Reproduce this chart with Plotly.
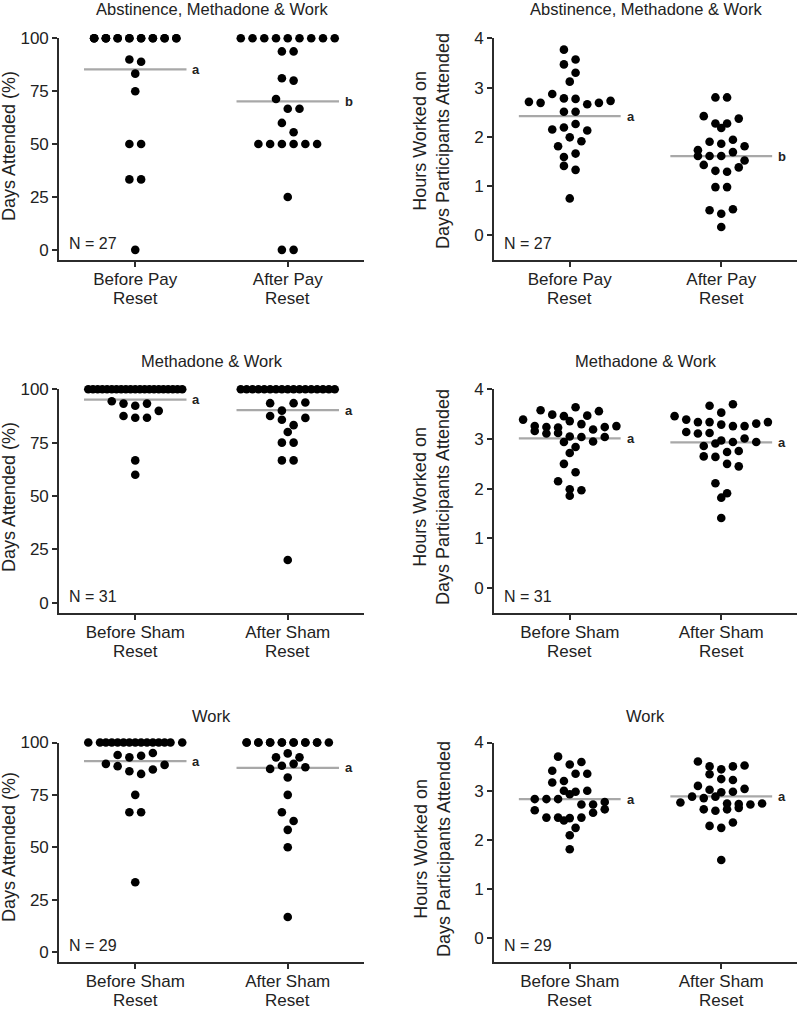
import plotly.graph_objects as go

# ---------------- data ----------------
cats_pay = ["Before Pay<br>Reset", "After Pay<br>Reset"]
cats_sham = ["Before Sham<br>Reset", "After Sham<br>Reset"]
panel_titles = ["Abstinence, Methadone & Work", "Methadone & Work", "Work"]
y_title_pct = "Days Attended (%)"
y_title_hours = "Hours Worked on<br>Days Participants Attended"
pct_ticks = [0, 25, 50, 75, 100]
hour_ticks = [0, 1, 2, 3, 4]

# Days attended (%) - Abstinence, Methadone & Work (N = 27)
tl_before = [100] * 18 + [90.0, 88.9, 83.3, 75.0, 50.0, 50.0, 33.3, 33.3, 0.0]
tl_after = [100] * 9 + [93.8, 93.8, 81.1, 80.0, 71.3, 66.7, 66.7, 60.0, 55.6,
                        50.0, 50.0, 50.0, 50.0, 50.0, 50.0, 25.0, 0.0, 0.0]
# Hours worked - Abstinence, Methadone & Work
tr_before = [3.77, 3.57, 3.47, 3.30, 3.12, 2.71, 2.69, 2.87, 2.78, 2.77, 2.66, 2.69,
             2.73, 2.51, 2.51, 2.15, 2.19, 2.26, 2.13, 1.81, 1.99, 1.91, 1.59, 1.66,
             1.41, 1.33, 0.75]
tr_after = [2.80, 2.80, 2.42, 2.27, 2.27, 2.37, 2.18, 1.73, 1.90, 1.86, 1.94, 1.81,
            1.61, 1.61, 1.61, 1.69, 1.52, 1.43, 1.31, 1.29, 1.38, 0.98, 0.98, 0.51,
            0.44, 0.53, 0.17]

# Days attended (%) - Methadone & Work (N = 31)
ml_before = [100] * 21 + [94.4, 93.3, 92.3, 93.3, 89.9, 87.5, 86.7, 86.7, 66.7, 60.0]
ml_after = [100] * 17 + [93.5, 90.0, 93.5, 93.8, 87.5, 85.7, 83.2, 86.6, 80.0, 75.0,
                         75.0, 66.7, 66.7, 20.0]
# Hours worked - Methadone & Work
mr_before = [3.58, 3.49, 3.46, 3.64, 3.39, 3.47, 3.56,
             3.26, 3.24, 3.23, 3.16, 3.36, 3.11, 3.30, 3.12, 3.19, 3.24, 3.26,
             3.05, 3.04, 2.94, 2.95, 3.04,
             2.84, 2.72, 2.50, 2.33, 2.15, 1.99, 1.97, 1.86]
mr_after = [3.46, 3.67, 3.53, 3.70, 3.39,
            3.34, 3.34, 3.14, 3.29, 3.11, 3.26, 3.26, 3.12, 3.31, 3.34,
            2.97, 2.94, 2.86, 3.01, 2.91, 2.94,
            2.65, 2.74, 2.76, 2.64, 2.50, 2.45, 2.11, 1.91, 1.82, 1.41]

# Days attended (%) - Work (N = 29)
bl_before = [100] * 15 + [94.0, 92.9, 93.7, 95.0, 89.8, 88.7, 86.3, 85.0, 87.1, 89.3,
                          75.0, 66.7, 66.7, 33.3]
bl_after = [100] * 15 + [92.9, 94.8, 92.9, 87.4, 88.9, 89.8, 88.2, 83.3, 75.0, 66.7,
                         62.5, 58.3, 50.0, 16.7]
# Hours worked - Work
br_before = [3.71, 3.55, 3.60, 3.42, 3.21, 3.36, 3.36, 3.18,
             2.84, 2.84, 3.01, 2.99, 3.01, 2.84, 2.94,
             2.61, 2.46, 2.46, 2.73, 2.40, 2.73, 2.45, 2.78, 2.46, 2.56, 2.63,
             2.25, 2.10, 1.81]
br_after = [3.61, 3.51, 3.45, 3.35, 3.51, 3.53, 3.25, 3.11, 3.23,
            2.77, 3.03, 2.98, 2.89, 2.86, 2.89, 2.99, 3.05,
            2.75, 2.74, 2.63, 2.60, 2.63, 2.66, 2.73, 2.75,
            2.29, 2.25, 2.36, 1.59]

sig_letters = {
    "tl": ["a", "b"], "tr": ["a", "b"],
    "ml": ["a", "a"], "mr": ["a", "a"],
    "bl": ["a", "a"], "br": ["a", "a"],
}

# ---------------- style / layout ----------------
FONT = "Liberation Sans, Arial, Helvetica, sans-serif"
W, H = 800, 1012
COL_PX = [(59, 364), (494, 797)]
ROW_PX = [(38.3, 260.0), (389.3, 613.0), (742.5, 962.0)]
TITLE_Y_PX = [9, 361, 716]
YTITLE_PX = {0: [146, 497, 847], 1: [141, 497, 849]}
YTITLE_X_PX = {0: 9, 1: 432}
XLABEL_LINE2_PX = 38.5   # distance of the 2nd category-label line below the x axis
DOT_STEP = 0.077      # horizontal spacing between dots (x units)
HALF_W = 0.336        # half-width of the mean line (x units)
ROW_THR = {"pct": 4.9, "hours": 0.215}


def swarm_offsets(vals, thr, mode="none", k=99):
    n = len(vals)
    order = sorted(range(n), key=lambda i: -vals[i])
    rows = []
    for i in order:
        if rows and vals[rows[-1][0]] - vals[i] < thr:
            rows[-1].append(i)
        else:
            rows.append([i])
    off = [0.0] * n
    for row in rows:
        row = sorted(row)
        m = len(row)
        if m <= k:
            pos = [j - (m - 1) / 2 for j in range(m)]
        elif mode == "wrap":
            pos = [(j % k) - (k - 1) / 2 for j in range(m)]
        elif mode == "chunk":
            pos = []
            for s in range(0, m, k):
                c = min(k, m - s)
                pos += [j - (c - 1) / 2 for j in range(c)]
        else:  # spread
            pos = [-(k - 1) / 2 + j * (k - 1) / (m - 1) for j in range(m)]
        for idx, p in zip(row, pos):
            off[idx] = p
    return off


panels = [
    ("tl", 0, 0, "pct", tl_before, tl_after, cats_pay, [("wrap", 8), ("wrap", 9)]),
    ("tr", 0, 1, "hours", tr_before, tr_after, cats_pay, [("none", 99), ("none", 99)]),
    ("ml", 1, 0, "pct", ml_before, ml_after, cats_sham, [("spread", 9), ("spread", 9)]),
    ("mr", 1, 1, "hours", mr_before, mr_after, cats_sham, [("none", 99), ("none", 99)]),
    ("bl", 2, 0, "pct", bl_before, bl_after, cats_sham, [("chunk", 9), ("wrap", 8)]),
    ("br", 2, 1, "hours", br_before, br_after, cats_sham, [("none", 99), ("none", 99)]),
]

fig = go.Figure()
annotations = []
axis_common = dict(showgrid=False, zeroline=False, showline=True, linecolor="#2b2b2b",
                   linewidth=1.6, ticks="outside", ticklen=5, tickwidth=1.6,
                   tickcolor="#2b2b2b", tickfont=dict(family=FONT, size=17, color="#222"),
                   fixedrange=True, automargin=False)

for n, (key, r, c, kind, before, after, cats, fills) in enumerate(panels, start=1):
    xa = "x" if n == 1 else f"x{n}"
    ya = "y" if n == 1 else f"y{n}"
    xdom = [COL_PX[c][0] / W, COL_PX[c][1] / W]
    top, bot = ROW_PX[r]
    ydom = [1 - bot / H, 1 - top / H]
    yrange = [-4.8, 100] if kind == "pct" else [-0.5, 4]
    ticks = pct_ticks if kind == "pct" else hour_ticks
    first_lines = [lab.split("<br>")[0] for lab in cats]
    second_lines = [lab.split("<br>")[1] for lab in cats]

    fig.layout[f"xaxis{'' if n == 1 else n}"] = dict(
        domain=xdom, anchor=ya, range=[-0.5, 1.5], tickvals=[0, 1],
        ticktext=first_lines, ticklabelstandoff=-2, **axis_common)
    fig.layout[f"yaxis{'' if n == 1 else n}"] = dict(
        domain=ydom, anchor=xa, range=yrange, tickvals=ticks,
        ticktext=[str(t) for t in ticks], **axis_common)

    for gi, lab2 in enumerate(second_lines):
        annotations.append(dict(
            x=gi, y=1 - (bot + XLABEL_LINE2_PX) / H, xref=xa, yref="paper", text=lab2,
            showarrow=False, xanchor="center", yanchor="middle",
            font=dict(family=FONT, size=17, color="#222")))

    for gi, (vals, (mode, k)) in enumerate(zip([before, after], fills)):
        mean = sum(vals) / len(vals)
        fig.add_trace(go.Scatter(
            x=[gi - HALF_W, gi + HALF_W], y=[mean, mean], mode="lines",
            line=dict(color="#a8a8a8", width=2.3), xaxis=xa, yaxis=ya,
            hoverinfo="skip", showlegend=False, cliponaxis=False))
        offs = swarm_offsets(vals, ROW_THR[kind], mode, k)
        fig.add_trace(go.Scatter(
            x=[gi + o * DOT_STEP for o in offs], y=vals, mode="markers",
            marker=dict(color="black", size=8.6, line=dict(width=0)),
            xaxis=xa, yaxis=ya, showlegend=False, cliponaxis=False,
            hoverinfo="skip"))
        annotations.append(dict(
            x=gi + HALF_W, y=mean, xref=xa, yref=ya, text=f"<b>{sig_letters[key][gi]}</b>",
            showarrow=False, xanchor="left", yanchor="middle", xshift=4,
            font=dict(family=FONT, size=13, color="#222")))

    # panel title
    annotations.append(dict(
        x=(xdom[0] + xdom[1]) / 2, y=1 - TITLE_Y_PX[r] / H, xref="paper", yref="paper",
        text=panel_titles[r], showarrow=False, xanchor="center", yanchor="middle",
        font=dict(family=FONT, size=16.5, color="#222")))
    # y-axis title
    annotations.append(dict(
        x=YTITLE_X_PX[c] / W, y=1 - YTITLE_PX[c][r] / H, xref="paper", yref="paper",
        text=y_title_pct if kind == "pct" else y_title_hours, textangle=-90,
        showarrow=False, xanchor="center", yanchor="middle",
        font=dict(family=FONT, size=18, color="#222")))
    # N label
    annotations.append(dict(
        x=(COL_PX[c][0] + 8) / W, y=1 - (bot - 16.5) / H, xref="paper", yref="paper",
        text=f"N = {len(before)}", showarrow=False, xanchor="left", yanchor="middle",
        font=dict(family=FONT, size=16, color="#222")))

fig.update_layout(
    template="none",
    width=W, height=H, margin=dict(l=0, r=0, t=0, b=0, autoexpand=False),
    paper_bgcolor="white", plot_bgcolor="white", showlegend=False,
    annotations=annotations, font=dict(family=FONT, color="#222"))

fig.write_html("out.html", config={"displayModeBar": False},
               post_script="document.body.style.margin='0px';document.body.style.padding='0px';")
